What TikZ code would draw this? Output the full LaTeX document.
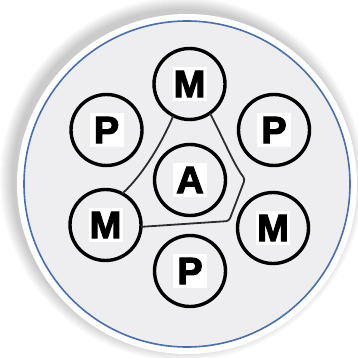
\documentclass[tikz,border=0pt]{standalone}
\usepackage{fontspec}
\setmainfont{Liberation Sans}[BoldFeatures={FakeBold=3}]
\definecolor{rimblue}{RGB}{74,110,168}
\definecolor{discgray}{RGB}{238,238,240}
\definecolor{linkgray}{RGB}{45,45,45}
\tikzset{
  ring/.style={circle, draw=black, line width=3.4pt, minimum size=71pt, inner sep=0pt, outer sep=0pt},
  lab/.style={fill=white, minimum size=34pt, inner sep=0pt, font=\fontsize{38}{38}\selectfont\bfseries},
  link/.style={draw=linkgray, line width=1.8pt, rounded corners=3pt}
}
\begin{document}
\begin{tikzpicture}[x=1pt,y=-1pt]
\useasboundingbox (0,0) rectangle (357,358);
\fill[white] (0,0) rectangle (357,358);
% soft shadow
\foreach \i in {0,...,12} \fill[black, opacity=0.016] (182,179) circle ({170+\i});
% disc
\fill[white] (187,184) circle (170);
\fill[discgray] (187,184) circle (163);
\draw[rimblue, line width=1.6pt] (187,184) circle (163);
% rings
\node[ring] (mt) at (189.5,84) {};
\node[ring] (pl) at (106.5,130) {};
\node[ring] (pr) at (274,130) {};
\node[ring] (a)  at (190,180) {};
\node[ring] (ml) at (105.5,225) {};
\node[ring] (mr) at (273,228) {};
\node[ring] (pb) at (190,271) {};
% labels
\node[lab] (mtl) at (mt) {M};
\node[lab] (pll) at (pl) {P};
\node[lab] (prl) at (pr) {P};
\node[lab] (al)  at (a)  {A};
\node[lab] (mll) at (ml) {M};
\node[lab] (mrl) at (mr) {M};
\node[lab] (pbl) at (pb) {P};
% connecting outline
\coordinate (c1) at (245,179);
\coordinate (c2) at (229,221);
\draw[linkgray, line width=1.8pt] (mt.243) .. controls (162,143) and (142,176) .. (ml.62);
\draw[link] (mt.305) .. controls (224,140) and (234,165) .. (c1) -- (c2) -- (ml.357);
\end{tikzpicture}
\end{document}
